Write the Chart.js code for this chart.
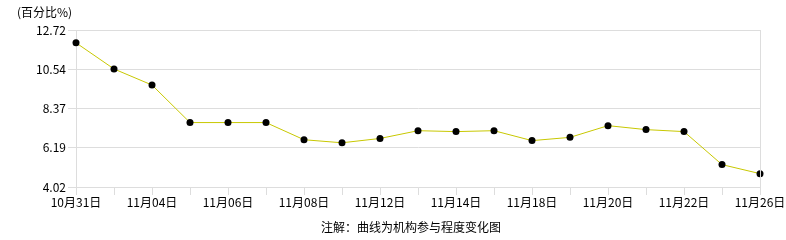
<!DOCTYPE html>
<html lang="zh">
<head>
  <meta charset="UTF-8" />
  <title>机构参与程度</title>
  <style>
    html, body { margin: 0; padding: 0; background: #fff; }
    #wrap { position: relative; width: 786px; height: 240px; }
  </style>
</head>
<body>
  <div id="wrap">
    <canvas id="chart" width="786" height="240"></canvas>
  </div>

  <script src="https://cdn.jsdelivr.net/npm/chart.js"></script>
  <script>
    const dates = ['10月31日', '11月01日', '11月04日', '11月05日', '11月06日', '11月07日', '11月08日',
      '11月11日', '11月12日', '11月13日', '11月14日', '11月15日', '11月18日', '11月19日',
      '11月20日', '11月21日', '11月22日', '11月25日', '11月26日'];
    const values = [12.01, 10.56, 9.67, 7.59, 7.59, 7.59, 6.64, 6.47, 6.71, 7.14,
      7.09, 7.14, 6.59, 6.77, 7.42, 7.20, 7.09, 5.26, 4.76];
    const yTicks = [4.02, 6.195, 8.37, 10.545, 12.72];
    const yTickLabels = ['4.02', '6.19', '8.37', '10.54', '12.72'];

    const FONT = '"Noto Sans CJK SC", "DejaVu Sans", sans-serif';

    // title at top-left, note at bottom, right border
    const extras = {
      id: 'extras',
      afterDraw(chart) {
        const ctx = chart.ctx;
        const a = chart.chartArea;
        ctx.save();
        ctx.strokeStyle = '#dddddd';
        ctx.lineWidth = 1;
        ctx.beginPath();
        ctx.moveTo(Math.round(a.right) + 0.5, a.top);
        ctx.lineTo(Math.round(a.right) + 0.5, a.bottom);
        ctx.stroke();

        ctx.fillStyle = '#000';
        ctx.font = '12px ' + FONT;
        ctx.textBaseline = 'middle';
        ctx.textAlign = 'left';
        ctx.fillText('(百分比%)', 17, 12);
        ctx.textAlign = 'center';
        ctx.fillText('注解：曲线为机构参与程度变化图', 411, 227);
        ctx.restore();
      }
    };

    new Chart(document.getElementById('chart'), {
      type: 'line',
      data: {
        labels: dates,
        datasets: [{
          data: values,
          borderColor: '#c8c800',
          borderWidth: 1,
          pointRadius: 3.5,
          pointBackgroundColor: '#000',
          pointBorderColor: '#000',
          pointBorderWidth: 0,
          tension: 0
        }]
      },
      options: {
        responsive: false,
        animation: false,
        layout: { padding: { top: 30, right: 26, left: 0, bottom: 0 } },
        plugins: {
          legend: { display: false },
          tooltip: { enabled: false }
        },
        scales: {
          x: {
            offset: false,
            afterFit(axis) { axis.height = 53; },
            grid: {
              drawOnChartArea: false,
              color: '#dddddd',
              tickLength: 8
            },
            border: { color: '#dddddd' },
            ticks: {
              autoSkip: false,
              maxRotation: 0,
              padding: 0,
              color: '#000',
              font: { family: FONT, size: 12 },
              callback(v, i) { return i % 2 === 0 ? dates[i] : ''; }
            }
          },
          y: {
            min: 4.02,
            max: 12.72,
            afterFit(axis) { axis.width = 76; },
            afterBuildTicks(axis) {
              axis.ticks = yTicks.map(v => ({ value: v }));
            },
            grid: { color: '#dddddd', tickLength: 8 },
            border: { color: '#dddddd' },
            ticks: {
              padding: 2,
              color: '#000',
              font: { family: FONT, size: 12 },
              callback(v, i) { return yTickLabels[i]; }
            }
          }
        }
      },
      plugins: [extras]
    });
  </script>
</body>
</html>
